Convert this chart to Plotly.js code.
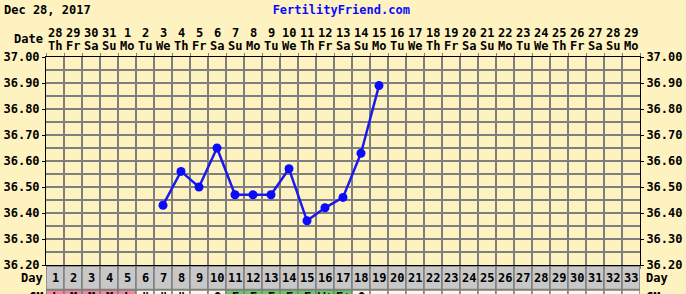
<!DOCTYPE html>
<html>
<head>
<meta charset="utf-8">
<script src="https://cdn.plot.ly/plotly-3.0.1.min.js"></script>
<style>html,body{margin:0;padding:0;background:#fef3c0;}#chart{width:686px;height:294px;}</style>
</head>
<body>
<div id="chart"></div>
<script>
// ---- data ----
const cycleDays = [1,2,3,4,5,6,7,8,9,10,11,12,13,14,15,16,17,18,19,20,21,22,23,24,25,26,27,28,29,30,31,32,33];
const dates = [28,29,30,31,1,2,3,4,5,6,7,8,9,10,11,12,13,14,15,16,17,18,19,20,21,22,23,24,25,26,27,28,29];
const dows = ['Th','Fr','Sa','Su','Mo','Tu','We','Th','Fr','Sa','Su','Mo','Tu','We','Th','Fr','Sa','Su','Mo','Tu','We','Th','Fr','Sa','Su','Mo','Tu','We','Th','Fr','Sa','Su','Mo'];
const tempDays = [7,8,9,10,11,12,13,14,15,16,17,18,19];
const temps = [36.43,36.56,36.50,36.65,36.47,36.47,36.47,36.57,36.37,36.42,36.46,36.63,36.89];
const obsCodes = ['L','M','M','M','L','"','"','"','','O','E','E','E','E','E','W+','E+','O','','','','','','','','','','','','','','',''];
const obsKinds = ['p','p','p','p','p','c','c','c','c','c','g','g','g','g','g','g','g','c','c','c','c','c','c','c','c','c','c','c','c','c','c','c','c'];

// ---- layout helpers ----
const W = 686, H = 294, L = 46, R = 640, T = 57, B = 265;
const py = p => (B - p) / (B - T);
const px = p => (p - L) / (R - L);
const FONT = {family: 'DejaVu Sans Mono', size: 12, color: '#000', weight: 700};
const kindColor = {p: '#f0879b', c: '#fff8e6', g: '#66c866'};
const GRID = '#7f7f7f';

const annotations = [];
const shapes = [];
annotations.push({xref:'paper', yref:'paper', x: px(3), y: py(10), xanchor:'left', yanchor:'middle', text:'Dec 28, 2017', showarrow:false, font:FONT, borderpad:0});
annotations.push({xref:'paper', yref:'paper', x: px(44), y: py(39), xanchor:'right', yanchor:'middle', text:'Date', showarrow:false, font:FONT, borderpad:0});
annotations.push({xref:'paper', yref:'paper', x: px(44), y: py(278), xanchor:'right', yanchor:'middle', text:'Day', showarrow:false, font:FONT, borderpad:0});
annotations.push({xref:'paper', yref:'paper', x: px(645), y: py(278), xanchor:'left', yanchor:'middle', text:'Day', showarrow:false, font:FONT, borderpad:0});
annotations.push({xref:'paper', yref:'paper', x: px(44), y: py(289), xanchor:'right', yanchor:'top', text:'CM', showarrow:false, font:FONT, borderpad:0});
annotations.push({xref:'paper', yref:'paper', x: px(645), y: py(289), xanchor:'left', yanchor:'top', text:'CM', showarrow:false, font:FONT, borderpad:0});

cycleDays.forEach((d, i) => {
  annotations.push({xref:'x', yref:'paper', x:d, y: py(33), yanchor:'middle', text:String(dates[i]), showarrow:false, font:FONT, borderpad:0});
  annotations.push({xref:'x', yref:'paper', x:d, y: py(46), yanchor:'middle', text:dows[i], showarrow:false, font:FONT, borderpad:0});
  annotations.push({xref:'x', yref:'paper', x:d, y: py(278), yanchor:'middle', text:String(d), showarrow:false, font:FONT, borderpad:0});
  if (obsCodes[i]) annotations.push({xref:'x', yref:'paper', x:d, y: py(289), yanchor:'top', text:obsCodes[i], showarrow:false, font:FONT, borderpad:0});
  shapes.push({type:'rect', xref:'x', yref:'paper', x0:d-0.5, x1:d+0.5, y0:py(266), y1:py(289.5), fillcolor:'#c8c8c8', line:{color:GRID, width:1.5}, layer:'below'});
  shapes.push({type:'rect', xref:'x', yref:'paper', x0:d-0.5, x1:d+0.5, y0:py(290), y1:py(320), fillcolor:kindColor[obsKinds[i]], line:{color:GRID, width:1.5}, layer:'below'});
});

const traces = [
  {x: tempDays, y: temps, type:'scatter', mode:'lines+markers', xaxis:'x', yaxis:'y',
   line:{color:'#1a1aef', width:2.5}, marker:{color:'#0a0aff', size:9}, hoverinfo:'skip', showlegend:false},
  {x: tempDays, y: temps, type:'scatter', mode:'lines', xaxis:'x', yaxis:'y2',
   line:{width:0, color:'rgba(0,0,0,0)'}, hoverinfo:'skip', showlegend:false}
];

const yCommon = {range:[36.2, 37.0], dtick:0.1, tick0:36.2, tickformat:'.2f', ticks:'outside', ticklen:3, tickcolor:'#000',
  tickfont:FONT, zeroline:false, fixedrange:true};

const layout = {
  width: W, height: H, autosize:false,
  margin:{l:L, r:W-R, t:T, b:H-B, pad:0},
  paper_bgcolor:'#fef3c0', plot_bgcolor:'#fef3c0',
  title:{text:'FertilityFriend.com', x:341/W, xanchor:'center', xref:'paper', y:1-10/H, yanchor:'middle',
    font:{family:'DejaVu Sans Mono', size:12, color:'#0a0aff', weight:700}},
  xaxis:{range:[0.5, 33.5], tick0:0.5, dtick:1, showticklabels:false, ticks:'outside', ticklen:3, tickcolor:GRID,
    showgrid:true, gridcolor:GRID, gridwidth:1.5, zeroline:false, showline:true, linecolor:'#000', linewidth:1, mirror:'ticks', fixedrange:true},
  yaxis: Object.assign({}, yCommon, {side:'left', showgrid:true, gridcolor:GRID, gridwidth:1.5,
    minor:{dtick:0.05, tick0:36.2, showgrid:true, gridcolor:GRID, gridwidth:1.5}, showline:true, linecolor:'#000', linewidth:1, mirror:true}),
  yaxis2: Object.assign({}, yCommon, {side:'right', overlaying:'y', showgrid:false, showline:false}),
  annotations: annotations,
  shapes: shapes,
  showlegend:false
};

Plotly.newPlot('chart', traces, layout, {staticPlot:true, displayModeBar:false});
</script>
</body>
</html>
